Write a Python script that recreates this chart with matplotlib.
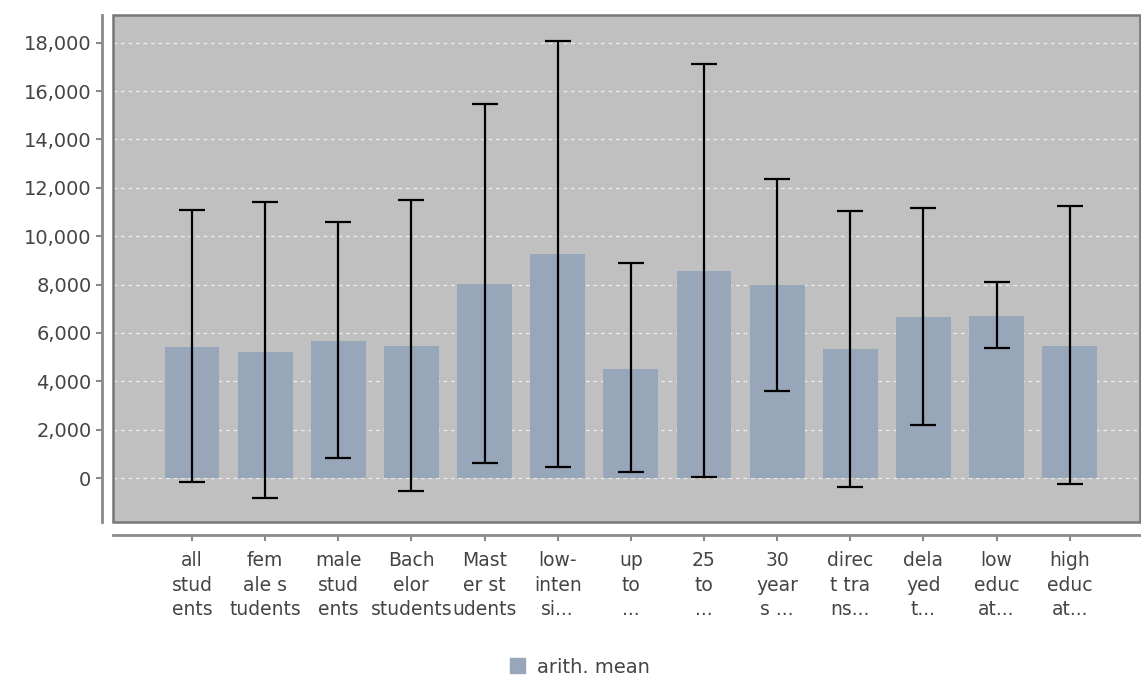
import numpy as np
import matplotlib
matplotlib.use("Agg")
import matplotlib.pyplot as plt
from matplotlib.patches import Rectangle, Patch
from matplotlib.ticker import FuncFormatter

# data
labels = ["all\nstud\nents", "fem\nale s\ntudents", "male\nstud\nents",
          "Bach\nelor\nstudents", "Mast\ner st\nudents", "low-\ninten\nsi...",
          "up\nto\n...", "25\nto\n...", "30\nyear\ns ...", "direc\nt tra\nns...",
          "dela\nyed\nt...", "low\neduc\nat...", "high\neduc\nat..."]
means = [5420, 5210, 5670, 5460, 8030, 9270, 4510, 8560, 7990, 5340, 6660, 6700, 5460]
err_low = [-165, -830, 830, -540, 620, 455, 250, 40, 3600, -370, 2190, 5380, -250]
err_high = [11090, 11420, 10590, 11500, 15470, 18080, 8900, 17130, 12370, 11050, 11170, 8110, 11250]

bar_color = "#98a6ba"
text_color = "#444444"
axis_color = "#8a8a8a"

fig = plt.figure(figsize=(11.41, 6.78), dpi=100)
ax = fig.add_axes([0.099, 0.230, 0.900, 0.748])
ax.set_facecolor("#c0c0c0")

x = np.arange(len(means))
means_a = np.array(means)
yerr = [means_a - np.array(err_low), np.array(err_high) - means_a]
ax.bar(x, means, width=0.75, color=bar_color, zorder=2)
ax.errorbar(x, means, yerr=yerr, fmt="none", ecolor="black", elinewidth=1.6,
            capsize=9.5, capthick=1.6, zorder=3)

ax.set_xlim(-1.08, 12.96)
ax.set_ylim(-1820, 19150)
ax.set_yticks(np.arange(0, 18001, 2000))
ax.yaxis.set_major_formatter(FuncFormatter(lambda v, p: f"{int(v):,}"))
ax.set_xticks(x)
ax.set_xticklabels([])
# category labels (wrapped, wider line spacing than tick labels allow)
for xi, lab in zip(x, labels):
    ax.annotate(lab, xy=(xi, 0), xycoords=ax.get_xaxis_transform(),
                xytext=(0, -21), textcoords="offset points", ha="center", va="top",
                linespacing=1.36, fontsize=13.5, color=text_color)

ax.grid(axis="y", color="white", linestyle=(0, (3, 3)), linewidth=0.9, alpha=0.7, zorder=1)
ax.set_axisbelow(True)

# plot frame
for s in ["top", "right"]:
    ax.spines[s].set_visible(False)
ax.spines["left"].set_position(("outward", 8))
ax.spines["bottom"].set_position(("outward", 9))
for s in ["left", "bottom"]:
    ax.spines[s].set_color(axis_color)
    ax.spines[s].set_linewidth(2)
ax.add_patch(Rectangle((0, 0), 1, 1, transform=ax.transAxes, fill=False,
                       edgecolor="#777777", linewidth=1.8, zorder=4, clip_on=False))

ax.tick_params(axis="both", colors=axis_color, length=4, width=1.5,
               labelcolor=text_color, labelsize=14)

fig.legend(handles=[Patch(color=bar_color, label="arith. mean")],
           loc="center", bbox_to_anchor=(0.508, 0.016), frameon=False,
           fontsize=14, handlelength=0.8, handleheight=0.8, handletextpad=0.6,
           labelcolor=text_color)

fig.savefig("out.png", dpi=100, facecolor="white")
